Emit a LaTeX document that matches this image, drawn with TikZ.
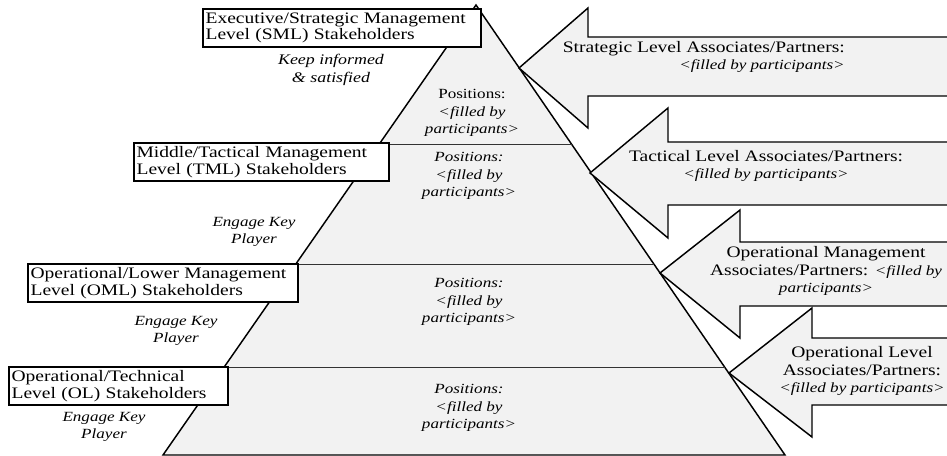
\documentclass[tikz,border=0pt]{standalone}
\usepackage{fontspec}
\setmainfont{Liberation Serif}[FakeStretch=1.22]
\usepackage{tikz}

\definecolor{pyrgray}{RGB}{242,242,242}

\begin{document}
\begin{tikzpicture}[x=0.75pt,y=0.75pt,yscale=-1,xscale=1,
  stakebox/.style={draw, line width=1.4pt, fill=white, anchor=north west, align=left,
    inner xsep=2pt, inner ysep=2pt, minimum height=28.5pt, font=\fontsize{12}{12.4}\selectfont},
  note/.style={align=center, inner sep=0.75pt, font=\fontsize{10.5}{13}\selectfont\itshape},
  partner/.style={inner sep=0.75pt, font=\fontsize{12}{13}\selectfont},
  bigarrow/.style={draw, line width=1.1pt, fill=pyrgray, line join=miter}]
\useasboundingbox (0,0) rectangle (947,456);
%Shape: Triangle [pyramid]
\draw [fill=pyrgray, line width=1.1pt] (476,5) -- (785,455) -- (163,455) -- cycle ;
%Straight Lines [levels]
\draw [line width=0.6pt, color=black!80]  (379.3,144) -- (571.5,144) ;
\draw [line width=0.6pt, color=black!80]  (295.8,264) -- (653.9,264) ;
%Straight Lines
\draw [line width=0.6pt, color=black!80]  (224.2,367) -- (724.6,367) ;
%Shape: Left Arrow [strategic]
\draw [bigarrow] (519,68) -- (588,8) -- (588,37) -- (960,37) -- (960,96) -- (588,96) -- (588,128) -- cycle ;
%Shape: Left Arrow [tactical]
\draw [bigarrow] (590,173) -- (668,108) -- (668,142) -- (960,142) -- (960,205) -- (668,205) -- (668,238) -- cycle ;
%Shape: Left Arrow [operational management]
\draw [bigarrow] (660,273) -- (740,210) -- (740,242) -- (960,242) -- (960,306) -- (740,306) -- (740,338) -- cycle ;
%Shape: Left Arrow [operational level]
\draw [bigarrow] (729,373) -- (812,308) -- (812,338) -- (960,338) -- (960,405) -- (812,405) -- (812,437) -- cycle ;
% Text Node
\node [stakebox, text width=204.5pt] (sml) at (202,8) {Executive/Strategic Management\\Level (SML) Stakeholders};
% Text Node
\node [stakebox, text width=187.2pt] (tml) at (133,142) {Middle/Tactical Management\\Level (TML) Stakeholders};
% Text Node
\node [stakebox, text width=198.5pt] (oml) at (27,263) {Operational/Lower Management\\Level (OML) Stakeholders};
% Text Node
\node [stakebox, text width=160.2pt] (ol) at (8,366) {Operational/Technical\\Level (OL) Stakeholders};
% Text Node
\node [note, font=\fontsize{11}{13.5}\selectfont\itshape] (keep) at (331,70) {Keep informed\\\& satisfied};
\node [note] (engtml) at (254,232) {Engage Key\\Player};
\node [note] (engoml) at (176,331) {Engage Key\\Player};
\node [note] (engol) at (104,427) {Engage Key\\Player};
% Text Node
\node [note] (possml) at (472,113) {\upshape Positions:\\<filled by\\participants>};
\node [note] (postml) at (469,176) {Positions:\\<filled by\\participants>};
\node [note] (posoml) at (469,302) {Positions:\\<filled by\\participants>};
\node [note] (posol) at (469,408) {Positions:\\<filled by\\participants>};
% Text Node
\node [partner, anchor=east, align=right] (slap) at (846,57) {Strategic Level Associates/Partners:\\{\itshape\fontsize{10.5}{13}\selectfont <filled by participants>}};
\node [partner, align=center] (tlap) at (766,166) {Tactical Level Associates/Partners:\\{\itshape\fontsize{10.5}{13}\selectfont <filled by participants>}};
\node [partner, align=center] (omap) at (826,271) {Operational Management\\Associates/Partners: {\itshape\fontsize{10.5}{13}\selectfont <filled by}\\{\itshape\fontsize{10.5}{13}\selectfont participants>}};
\node [partner, align=center] (olap) at (862,371) {Operational Level\\Associates/Partners:\\{\itshape\fontsize{10.5}{13}\selectfont <filled by participants>}};
\end{tikzpicture}
\end{document}
